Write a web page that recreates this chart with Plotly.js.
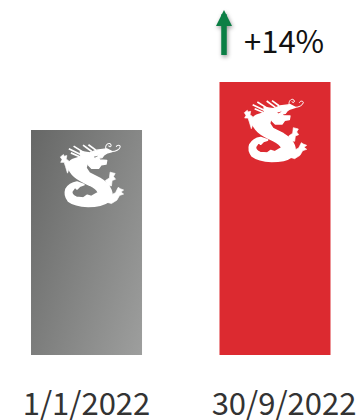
<!DOCTYPE html>
<html>
<head>
<meta charset="utf-8">
<script src="https://cdn.plot.ly/plotly-3.0.1.min.js"></script>
<style>
  html, body { margin: 0; padding: 0; background: #fff; }
  #chart { width: 360px; height: 420px; }
</style>
</head>
<body>
<div id="chart"></div>
<script>
// Indexed value at each date, on an axis that does not start at zero.
const periods = [0, 1];
const indexValues = [100, 114];
const barColors = ['#8a8b8a', '#dc2a30'];
const tickPositions = [0, 1.048];
const tickLabels = ['1/1/2022', '30/9/2022'];
const changeLabel = '+14%';
const FONT = '"Noto Sans CJK SC", "Noto Sans", sans-serif';

// Company dragon emblem, white on transparent.
const dragonSvg = `<svg xmlns="http://www.w3.org/2000/svg" viewBox="0 0 210 228">
<defs><filter id="s"><feGaussianBlur stdDeviation="0.9"/></filter></defs>
<g fill="#fff" stroke="#fff" stroke-linejoin="round" filter="url(#s)">
<path stroke-width="6" d="M75,62 L92,78 L88,95 L98,110 L130,126 Q154,140 162,160 Q170,180 156,193 Q135,208 95,208 Q55,206 37,192 Q24,176 30,158 Q40,140 62,137 L82,144 L70,148 L62,156 L56,150 L46,164 Q44,176 60,182 L82,184 L92,176 L104,180 L118,172 L126,168 Q122,156 100,145 Q70,132 56,120 Q40,106 36,88 Q38,76 50,70 Z"/>
<path stroke-width="4" fill-rule="evenodd" d="M72,46 L100,50 L120,42 L150,38 L166,46 L150,51 L142,56 L136,64 L124,66 L130,71 L150,72 L148,83 L134,85 L126,96 L106,96 L96,86 L88,72 L74,64 Z M108,60 L130,55 L124,62 L114,67 Z"/>
<path fill="none" stroke-width="5" d="M38,38 L76,56 M44,50 L72,62 M52,30 L84,50 M80,27 L106,46 M96,26 L118,42"/>
<path stroke-width="2" d="M13,62 L22,55 L24,60 L32,58 L30,68 L38,74 L40,92 L34,110 L28,90 L24,78 L14,78 L18,70 Z"/>
<path stroke-width="2" d="M160,107 L175,111 L170,120 L176,128 L166,132 L164,148 L152,146 L146,132 L158,124 Z"/>
<path stroke-width="2" d="M160,176 L176,168 L184,152 L190,156 L200,160 L192,166 L200,172 L188,176 L180,190 L164,200 L150,196 Z"/>
<path fill="none" stroke-width="3" d="M148,40 C143,24 160,16 163,27 C164,33 156,33 156,28 M166,46 C176,46 188,40 190,32 C190,26 180,26 178,32"/>
</g>
</svg>`;
const dragonUri = 'data:image/svg+xml;charset=utf-8,' + encodeURIComponent(dragonSvg);

// Emblem placement in paper fractions: the plot area fills 360 x 355 px.
function emblem(left, top, w, h) {
  return {
    source: dragonUri, xref: 'paper', yref: 'paper',
    x: left / 360, y: 1 - top / 355, sizex: w / 360, sizey: h / 355,
    xanchor: 'left', yanchor: 'top', sizing: 'stretch', layer: 'above'
  };
}

const trace = {
  type: 'bar',
  x: periods,
  y: indexValues,
  width: 0.589,
  marker: { color: barColors, line: { width: 0 } },
  hoverinfo: 'skip'
};

const layout = {
  width: 360,
  height: 420,
  margin: { l: 0, r: 0, t: 0, b: 65, pad: 0 },
  paper_bgcolor: '#fff',
  plot_bgcolor: '#fff',
  showlegend: false,
  xaxis: {
    range: [-0.459, 1.451],
    tickmode: 'array',
    tickvals: tickPositions,
    ticktext: tickLabels,
    ticks: 'outside',
    ticklen: 22,
    tickcolor: 'rgba(0,0,0,0)',
    showgrid: false,
    zeroline: false,
    showline: false,
    automargin: false,
    tickfont: { family: FONT, size: 31, color: '#333333' }
  },
  yaxis: {
    range: [34.4, 137.9],
    visible: false,
    fixedrange: true
  },
  images: [emblem(56, 136, 71, 77), emblem(240, 92, 70, 76)],
  annotations: [
    {
      xref: 'paper', yref: 'paper',
      x: 224 / 360, y: 1 - 10 / 355,
      axref: 'pixel', ayref: 'pixel', ax: 0, ay: 55,
      text: ' ', showarrow: true,
      arrowhead: 2, arrowsize: 0.58, arrowwidth: 5.5, arrowcolor: '#0b7f45'
    },
    {
      xref: 'paper', yref: 'paper',
      x: 242 / 360, y: 1 - 40 / 355,
      xanchor: 'left', yanchor: 'middle',
      text: changeLabel, showarrow: false,
      font: { family: FONT, size: 31, color: '#111111' }
    }
  ]
};

Plotly.newPlot('chart', [trace], layout, { displayModeBar: false, staticPlot: true }).then(gd => {
  // Diagonal grey fill for the opening bar, soft shadow under the arrow.
  const svg = gd.querySelector('svg.main-svg');
  const ns = 'http://www.w3.org/2000/svg';
  const grad = document.createElementNS(ns, 'linearGradient');
  grad.setAttribute('id', 'greyFade');
  grad.setAttribute('x1', '0'); grad.setAttribute('y1', '0');
  grad.setAttribute('x2', '1'); grad.setAttribute('y2', '1');
  [['0', '#666766'], ['1', '#a9aaa9']].forEach(([o, c]) => {
    const stop = document.createElementNS(ns, 'stop');
    stop.setAttribute('offset', o); stop.setAttribute('stop-color', c);
    grad.appendChild(stop);
  });
  svg.querySelector('defs').appendChild(grad);
  const firstBar = gd.querySelector('.bars .point path');
  firstBar.style.fill = 'url(#greyFade)';
  gd.querySelectorAll('.annotation-arrow-g').forEach(g => {
    g.style.filter = 'drop-shadow(1.5px 2.5px 2px rgba(0,0,0,0.4))';
  });
});
</script>
</body>
</html>
